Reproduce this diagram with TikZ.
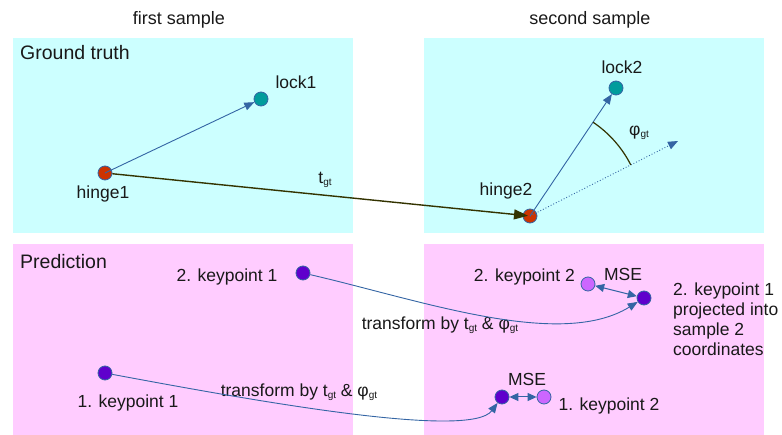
\documentclass[tikz,border=0pt]{standalone}
\usepackage{fontspec}
\setmainfont{Liberation Sans}
\usetikzlibrary{arrows.meta,calc}

\definecolor{cyanbg}{HTML}{CCFFFF}
\definecolor{pinkbg}{HTML}{FFCCFF}
\definecolor{hingered}{HTML}{CC3300}
\definecolor{lockteal}{HTML}{009C9C}
\definecolor{kpdark}{HTML}{5F00CC}
\definecolor{kplight}{HTML}{CC66FF}
\definecolor{linkblue}{HTML}{3465A4}
\definecolor{darkolive}{HTML}{333300}

% small lowered "gt" index
\newcommand{\gtidx}{\raisebox{-2.5pt}{\fontsize{10}{10}\selectfont gt}}

\tikzset{
  panelgt/.style={fill=cyanbg, draw=none},
  panelpred/.style={fill=pinkbg, draw=none},
  dot/.style={circle, minimum size=14pt, inner sep=0pt, draw=linkblue, line width=0.8pt},
  lbl/.style={font=\fontsize{17.5}{20}\selectfont, inner sep=0pt, text=black!90},
  heading/.style={font=\fontsize{19.5}{22}\selectfont, inner sep=0pt, text=black!90},
  coltitle/.style={font=\fontsize{18}{20}\selectfont, inner sep=0pt, text=black!90},
  bluearrow/.style={draw=linkblue, line width=0.9pt, -{Triangle[length=10pt,width=8pt]}},
  bluedouble/.style={draw=linkblue, line width=1pt, {Triangle[length=9pt,width=8pt]}-{Triangle[length=9pt,width=8pt]}},
  dotarrow/.style={draw=linkblue, line width=0.9pt, dotted, -{Triangle[length=10pt,width=8pt]}},
  transarrow/.style={draw=darkolive, line width=1.4pt, -{Triangle[length=14pt,width=10pt]}},
}

\begin{document}
\begin{tikzpicture}[x=1pt, y=-1pt]
  \useasboundingbox (0,0) rectangle (782,435);

  % panels
  \fill[panelgt]   (13,38)  rectangle (353,233);
  \fill[panelgt]   (424,38) rectangle (764,233);
  \fill[panelpred] (13,244) rectangle (353,435);
  \fill[panelpred] (424,244) rectangle (764,435);

  % column titles and row headings
  \node[coltitle] (t1) at (179,20) {first sample};
  \node[coltitle] (t2) at (590,20) {second sample};
  \node[heading, anchor=west] (hgt) at (20,53) {Ground truth};
  \node[heading, anchor=west] (hpr) at (20,262) {Prediction};

  % ground truth points
  \node[dot, fill=hingered] (h1) at (105,173) {};
  \node[dot, fill=lockteal] (l1) at (261,99) {};
  \node[dot, fill=hingered] (h2) at (530,216) {};
  \node[dot, fill=lockteal] (l2) at (616,88) {};
  \coordinate (dir) at (678,141);

  \node[lbl] (l1t) at (296,82) {lock1};
  \node[lbl] (h1t) at (103,194) {hinge1};
  \node[lbl] (l2t) at (622,67) {lock2};
  \node[lbl] (h2t) at (506,191) {hinge2};
  \node[lbl] (tt) at (325,180) {t\gtidx};
  \node[lbl] (phit) at (639,133) {φ\gtidx};

  \draw[bluearrow] (h1.center) -- (l1);
  \draw[bluearrow] (h2.center) -- (l2);
  \draw[dotarrow] (h2.center) -- (dir);
  \draw[darkolive, line width=1.2pt] ($(h2.center)+(56.1:113pt)$) arc[start angle=56.1, end angle=26.9, radius=113pt];
  \draw[transarrow, shorten >=2pt] (h1) -- (h2.center);

  % predicted keypoints
  \node[dot, fill=kpdark] (k21) at (303,273) {};
  \node[dot, fill=kpdark] (k11) at (105,373) {};
  \node[dot, fill=kplight] (k22) at (588,284) {};
  \node[dot, fill=kpdark] (p21) at (644,298) {};
  \node[dot, fill=kpdark] (p11) at (502,397) {};
  \node[dot, fill=kplight] (k12) at (544,397) {};

  \node[lbl] (k21t) at (227,277) {2. keypoint 1};
  \node[lbl] (k11t) at (128,403) {1. keypoint 1};
  \node[lbl, anchor=east] (k22t) at (575,277) {2. keypoint 2};
  \node[lbl] (k12t) at (609,406) {1. keypoint 2};
  \node[lbl] (mse2) at (623,274) {MSE};
  \node[lbl] (mse1) at (527,379) {MSE};
  \node[lbl, anchor=west, align=left] (p21t) at (673,319) {2. keypoint 1\\projected into\\sample 2\\coordinates};
  \node[lbl] (tr2) at (440,325) {transform by t\gtidx{} \& φ\gtidx};
  \node[lbl] (tr1) at (299,392) {transform by t\gtidx{} \& φ\gtidx};

  \draw[bluearrow] (k21) .. controls (420,300) and (560,350) .. (p21);
  \draw[bluearrow] (k11) .. controls (250,400) and (470,440) .. (p11);
  \draw[bluedouble] (k22) -- (p21);
  \draw[bluedouble] (p11) -- (k12);
\end{tikzpicture}
\end{document}
